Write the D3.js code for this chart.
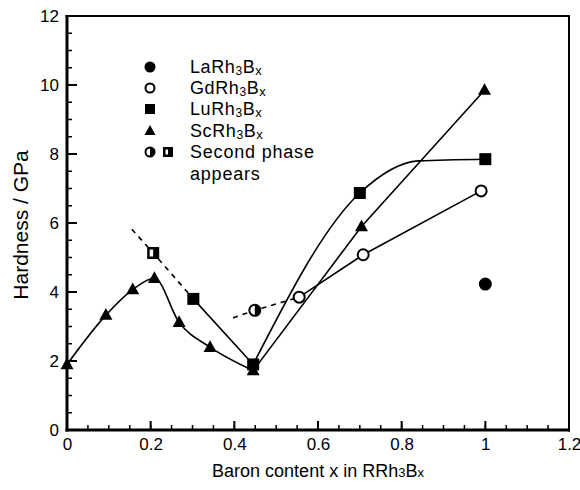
<!DOCTYPE html>
<html>
<head>
<meta charset="utf-8">
<script src="https://cdn.jsdelivr.net/npm/d3@7"></script>
<style>
  body { margin: 0; background: #fff; }
  text { font-family: "Liberation Sans", Arial, sans-serif; fill: #000; }
</style>
</head>
<body>
<div class="hardness-plot"></div>
<script>
// ticks
const xTicks = [0, 0.2, 0.4, 0.6, 0.8, 1, 1.2];
const yTicks = [0, 2, 4, 6, 8, 10, 12];

// measured points
const scX = [0, 0.093, 0.157, 0.209, 0.268, 0.342, 0.445, 0.704, 0.998];
const scY = [1.9, 3.33, 4.07, 4.4, 3.12, 2.4, 1.72, 5.9, 9.85];
const luX = [0.302, 0.445, 0.70, 1.0];
const luY = [3.8, 1.9, 6.87, 7.85];
const luPhaseX = [0.206];
const luPhaseY = [5.13];
const gdX = [0.555, 0.708, 0.99];
const gdY = [3.85, 5.08, 6.93];
const gdPhaseX = [0.449];
const gdPhaseY = [3.47];
const laX = [1.0];
const laY = [4.23];

// guide lines as drawn on the picture
const scLeftX = [0, 0.093, 0.157, 0.209, 0.268, 0.342, 0.445];
const scLeftY = [1.9, 3.33, 4.07, 4.4, 3.12, 2.4, 1.72];
const scRightX = [0.445, 0.704, 0.998];
const scRightY = [1.72, 5.9, 9.85];
const luDashX = [0.155, 0.206, 0.302];
const luDashY = [5.82, 5.13, 3.8];
const luDownX = [0.302, 0.445];
const luDownY = [3.8, 1.9];
const luUpX = [0.445, 0.70, 0.84, 1.0];
const luUpY = [1.9, 6.87, 7.8, 7.85];
const gdDashX = [0.397, 0.449, 0.555];
const gdDashY = [3.25, 3.47, 3.85];

const legendNames = ["La", "Gd", "Lu", "Sc"];

const zip = (xs, ys) => xs.map((x, i) => ({x: x, y: ys[i]}));

const svg = d3.select('.hardness-plot')
    .append('svg')
    .attr('width', 580)
    .attr('height', 490);

const xScale = d3.scaleLinear().domain([0, 1.2]).range([67, 569]);
const yScale = d3.scaleLinear().domain([0, 12]).range([430, 16]);

const fontFam = '"Liberation Sans", Arial, sans-serif';

// tick labels from the axis generators
svg.append('g')
    .attr('transform', 'translate(0,430)')
    .call(d3.axisBottom(xScale).tickValues(xTicks).tickSize(0).tickPadding(8).tickFormat(d3.format('')))
    .call(g => g.select('.domain').remove())
    .call(g => g.selectAll('.tick line').remove())
    .call(g => g.selectAll('.tick text').attr('font-size', 17).attr('font-family', fontFam));
svg.append('g')
    .attr('transform', 'translate(67,0)')
    .call(d3.axisLeft(yScale).tickValues(yTicks).tickSize(0).tickPadding(8).tickFormat(d3.format('')))
    .call(g => g.select('.domain').remove())
    .call(g => g.selectAll('.tick line').remove())
    .call(g => g.selectAll('.tick text').attr('font-size', 17).attr('font-family', fontFam));

// inward ticks as thin filled rects
const xMinor = d3.range(0, 1.2001, 0.05);
const yMinor = d3.range(0, 12.001, 0.5);
const tickG = svg.append('g').attr('fill', '#000');
tickG.selectAll('.xminor').data(xMinor).enter().append('rect')
    .attr('x', d => xScale(d) - 0.75).attr('y', 425).attr('width', 1.5).attr('height', 5);
tickG.selectAll('.xmajor').data(xTicks).enter().append('rect')
    .attr('x', d => xScale(d) - 1).attr('y', 421).attr('width', 2).attr('height', 9);
tickG.selectAll('.yminor').data(yMinor).enter().append('rect')
    .attr('x', 67).attr('y', d => yScale(d) - 0.75).attr('width', 5).attr('height', 1.5);
tickG.selectAll('.ymajor').data(yTicks).enter().append('rect')
    .attr('x', 67).attr('y', d => yScale(d) - 1).attr('width', 10).attr('height', 2);

// frame
const [x0, x1] = xScale.range();
const [y0, y1] = yScale.range();
const frame = svg.append('g').attr('fill', '#000');
frame.append('rect').attr('x', x0 - 1.5).attr('y', y1 - 1).attr('width', 3).attr('height', y0 - y1 + 2.5);
frame.append('rect').attr('x', x0 - 1.5).attr('y', y0 - 1.5).attr('width', x1 - x0 + 2.5).attr('height', 3);
frame.append('rect').attr('x', x0 - 1.5).attr('y', y1 - 1).attr('width', x1 - x0 + 2.5).attr('height', 2);
frame.append('rect').attr('x', x1 - 1).attr('y', y1 - 1).attr('width', 2).attr('height', y0 - y1 + 2.5);

// axis titles
svg.append('text')
    .attr('transform', 'translate(28,225) rotate(-90)')
    .attr('text-anchor', 'middle')
    .attr('font-size', 21)
    .text('Hardness / GPa');

const xt = svg.append('text')
    .attr('x', 318).attr('y', 477)
    .attr('text-anchor', 'middle')
    .attr('font-size', 18);
xt.append('tspan').text('Baron content x in RRh');
xt.append('tspan').attr('font-size', 13).text('3');
xt.append('tspan').text('B');
xt.append('tspan').attr('font-size', 13).text('x');

// lines
const line = d3.line().x(d => xScale(d.x)).y(d => yScale(d.y));
const curve = d3.line().x(d => xScale(d.x)).y(d => yScale(d.y)).curve(d3.curveMonotoneX);

function drawPath(data, gen, dashed) {
    svg.append('path')
        .datum(data)
        .attr('fill', 'none')
        .attr('stroke', '#000')
        .attr('stroke-width', 1.6)
        .attr('stroke-dasharray', dashed ? '5,5' : null)
        .attr('d', gen);
}

drawPath(zip(scLeftX, scLeftY), curve);
drawPath(zip(scRightX, scRightY), line);
drawPath(zip(luDashX, luDashY), line, true);
drawPath(zip(luDownX, luDownY), curve);
drawPath(zip(luUpX, luUpY), curve);
drawPath(zip(gdDashX, gdDashY), line, true);
drawPath(zip(gdX, gdY), line);

// marker shapes
function circle(g, cx, cy, r, fill) {
    g.append('circle').attr('cx', cx).attr('cy', cy).attr('r', r)
        .attr('fill', fill).attr('stroke', '#000').attr('stroke-width', 2);
}
function square(g, cx, cy, s) {
    g.append('rect').attr('x', cx - s / 2).attr('y', cy - s / 2).attr('width', s).attr('height', s).attr('fill', '#000');
}
function triangle(g, cx, cy, s) {
    const h = s * 0.9;
    g.append('path')
        .attr('d', `M${cx},${cy - h * 0.6}L${cx + s / 2},${cy + h * 0.4}L${cx - s / 2},${cy + h * 0.4}Z`)
        .attr('fill', '#000');
}
function halfCircle(g, cx, cy, r) {
    g.append('circle').attr('cx', cx).attr('cy', cy).attr('r', r)
        .attr('fill', '#fff').attr('stroke', '#000').attr('stroke-width', 2);
    g.append('path')
        .attr('d', `M${cx},${cy - r}A${r},${r} 0 0 1 ${cx},${cy + r}Z`)
        .attr('fill', '#000');
}
function halfSquare(g, cx, cy, s) {
    square(g, cx, cy, s);
    g.append('rect').attr('x', cx - s / 2 + 2.5).attr('y', cy - s / 2 + 2.5)
        .attr('width', s / 2 - 2.5).attr('height', s - 5).attr('fill', '#fff');
}

const marks = svg.append('g');
zip(scX, scY).forEach(d => triangle(marks, xScale(d.x), yScale(d.y), 13));
zip(luX, luY).forEach(d => square(marks, xScale(d.x), yScale(d.y), 12));
zip(luPhaseX, luPhaseY).forEach(d => halfSquare(marks, xScale(d.x), yScale(d.y), 12));
zip(gdX, gdY).forEach(d => circle(marks, xScale(d.x), yScale(d.y), 5.5, '#fff'));
zip(gdPhaseX, gdPhaseY).forEach(d => halfCircle(marks, xScale(d.x), yScale(d.y), 5.5));
zip(laX, laY).forEach(d => circle(marks, xScale(d.x), yScale(d.y), 5.5, '#000'));

// legend
const legend = svg.append('g');
const rowY = [67, 88, 109, 131, 152, 174];
circle(legend, 150, rowY[0], 4.5, '#000');
circle(legend, 150, rowY[1], 4.5, '#fff');
square(legend, 150, rowY[2], 10);
triangle(legend, 150, rowY[3], 11);
halfCircle(legend, 150, rowY[4], 4.5);
halfSquare(legend, 168, rowY[4], 10);

legendNames.forEach((name, i) => {
    const t = legend.append('text').attr('x', 190).attr('y', rowY[i] + 6)
        .attr('font-size', 18).attr('letter-spacing', 0.6);
    t.append('tspan').text(name + 'Rh');
    t.append('tspan').attr('font-size', 12).attr('dy', 2).text('3');
    t.append('tspan').attr('dy', -2).text('B');
    t.append('tspan').attr('font-size', 13).attr('dy', 1.5).text('x');
});
legend.append('text').attr('x', 190).attr('y', rowY[4] + 6).attr('font-size', 18).attr('letter-spacing', 0.8).text('Second phase');
legend.append('text').attr('x', 190).attr('y', rowY[5] + 6).attr('font-size', 18).attr('letter-spacing', 0.8).text('appears');
</script>
</body>
</html>
